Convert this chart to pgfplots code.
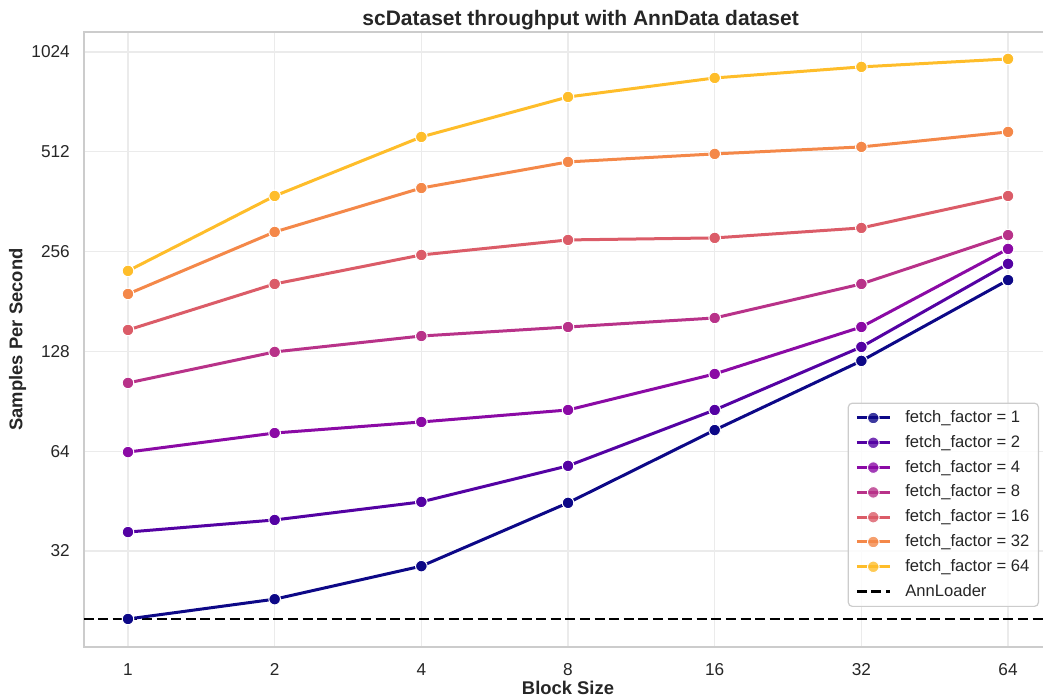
\documentclass[border=0pt]{standalone}
\usepackage{pgfplots}
\pgfplotsset{compat=1.18}
\usepackage{fontspec}
\setmainfont{Liberation Sans}
\definecolor{c1}{HTML}{0D0887}
\definecolor{c2}{HTML}{5402A3}
\definecolor{c3}{HTML}{8B0AA5}
\definecolor{c4}{HTML}{B83289}
\definecolor{c5}{HTML}{DB5C68}
\definecolor{c6}{HTML}{F48849}
\definecolor{c7}{HTML}{FEBD2A}
\definecolor{txt}{HTML}{262626}
\definecolor{spine}{HTML}{CCCCCC}
\definecolor{gridc}{HTML}{EBEBEB}
\pgfplotsset{ff/.style={color=#1, line width=1.5pt, mark=*, mark size=2.9pt,
  mark options={fill=#1, draw=white, line width=0.5pt, solid}}}
\begin{document}
\begin{tikzpicture}
\path[use as bounding box] (-42pt,-26.5pt) rectangle (479.5pt,323.5pt);
\clip (-42pt,-26.5pt) rectangle (479.5pt,323.5pt);
\begin{axis}[
  at={(0,0)}, anchor=south west, scale only axis,
  width=484pt, height=307.5pt,
  xmode=log, ymode=log, log basis x=2, log basis y=2,
  xmin=0.8123, xmax=78.79, ymin=16.43, ymax=1176,
  xtick={1,2,4,8,16,32,64}, xticklabels={1,2,4,8,16,32,64},
  ytick={32,64,128,256,512,1024}, yticklabels={32,64,128,256,512,1024},
  minor tick num=0, major tick length=0pt, minor tick length=0pt,
  grid=major, major grid style={draw=gridc, line width=0.6pt},
  axis line style={draw=spine, line width=0.85pt},
  /pgf/number format/assume math mode=true,
  tick label style={font=\fontsize{8.6}{10}\selectfont, text=txt},
  xticklabel style={yshift=-4.6pt},
  yticklabel style={xshift=-3.6pt},
  title={scDataset throughput with AnnData dataset},
  title style={font=\fontsize{10.5}{12}\selectfont\bfseries, text=txt, anchor=base, at={(axis description cs:0.513,1)}, yshift=-3pt},
  xlabel={Block Size},
  xlabel style={font=\fontsize{9.2}{11}\selectfont\bfseries, text=txt, at={(axis description cs:0.5,0)}, anchor=base, yshift=-24pt},
  ylabel={Samples Per Second},
  ylabel style={font=\fontsize{9.2}{11}\selectfont\bfseries, text=txt, at={(axis description cs:-0.0687,0.5)}, anchor=center},
  legend cell align=left,
  legend image code/.code={\draw[mark repeat=2,mark phase=2] plot coordinates {(0pt,0pt) (8.25pt,0pt) (16.5pt,0pt)}; \path (0pt,0pt) (22.5pt,0pt);},
  legend style={at={(axis description cs:1,0)}, anchor=south east, xshift=-6.5pt, yshift=20pt,
    draw=spine, line width=0.6pt, rounded corners=2pt, fill=white, fill opacity=0.8, text opacity=1,
    font=\fontsize{8.3}{10}\selectfont, text=txt, inner xsep=3.5pt, inner ysep=1.2pt, row sep=0pt,
    nodes={text height=6.2pt, text depth=1.6pt, inner ysep=2.3pt, inner xsep=1pt}},
]
\addplot[black, line width=1.4pt, dash pattern=on 5pt off 2.3pt, forget plot] coordinates {(0.5,19.96) (100,19.96)};
\addplot[ff=c1] coordinates {(1,19.96) (2,22.9) (4,28.8) (8,44.7) (16,74.1) (32,119.8) (64,210)};
\addlegendentry{fetch\_factor = 1}
\addplot[ff=c2] coordinates {(1,36.5) (2,39.7) (4,45.0) (8,57.8) (16,85.2) (32,132) (64,235)};
\addlegendentry{fetch\_factor = 2}
\addplot[ff=c3] coordinates {(1,63.6) (2,72.6) (4,78.4) (8,85.2) (16,109.4) (32,151.6) (64,260.7)};
\addlegendentry{fetch\_factor = 4}
\addplot[ff=c4] coordinates {(1,102.8) (2,127.5) (4,142.4) (8,151.6) (16,161.4) (32,204.4) (64,287)};
\addlegendentry{fetch\_factor = 8}
\addplot[ff=c5] coordinates {(1,148.5) (2,204.4) (4,250) (8,277.5) (16,281.4) (32,301.6) (64,376.6)};
\addlegendentry{fetch\_factor = 16}
\addplot[ff=c6] coordinates {(1,190.7) (2,293.3) (4,398) (8,477) (16,504.3) (32,529.4) (64,587.5)};
\addlegendentry{fetch\_factor = 32}
\addplot[ff=c7] coordinates {(1,223.8) (2,376.6) (4,567.4) (8,749) (16,854.6) (32,922.8) (64,975.4)};
\addlegendentry{fetch\_factor = 64}
\addlegendimage{black, line width=1.4pt, dash pattern=on 5pt off 2.3pt}
\addlegendentry{AnnLoader}
\end{axis}
\end{tikzpicture}
\end{document}
